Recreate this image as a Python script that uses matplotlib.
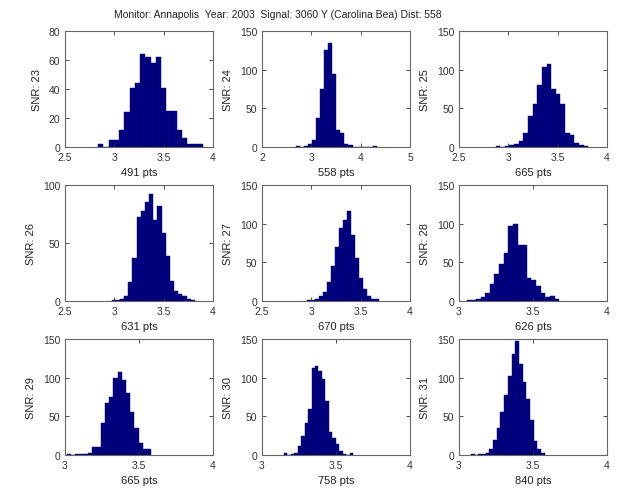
import numpy as np
import matplotlib
matplotlib.use("Agg")
import matplotlib.pyplot as plt

plt.rcParams['font.family'] = ['Liberation Sans', 'DejaVu Sans']

title = "Monitor: Annapolis  Year: 2003  Signal: 3060 Y (Carolina Bea) Dist: 558"

snr = [23, 24, 25, 26, 27, 28, 29, 30, 31]
npts = [491, 558, 665, 631, 670, 626, 665, 758, 840]

# data range (first bin left edge, last bin right edge) for each panel
bin_lo = [2.837, 2.68, 2.87, 2.973, 2.953, 3.052, 3.011, 3.147, 3.08]
bin_hi = [3.897, 4.33, 3.81, 3.817, 3.69, 3.677, 3.584, 3.616, 3.58]

counts_23 = [2, 0, 5, 5, 12, 24, 41, 44, 64, 62, 58, 62, 41, 25, 25, 12, 6, 2, 2, 2]
counts_24 = [1, 0, 1, 4, 9, 37, 75, 125, 135, 94, 22, 18, 4, 2, 0, 0, 0, 0, 0, 1]
counts_25 = [1, 0, 1, 2, 4, 8, 18, 40, 55, 80, 104, 107, 75, 68, 55, 18, 15, 5, 2, 1]
counts_26 = [1, 1, 2, 4, 16, 37, 72, 78, 85, 92, 70, 82, 59, 39, 17, 9, 6, 4, 2, 1]
counts_27 = [1, 1, 2, 6, 12, 25, 45, 70, 95, 105, 116, 85, 55, 30, 15, 6, 2, 2]
counts_28 = [1, 1, 2, 5, 10, 22, 35, 48, 62, 97, 100, 72, 72, 30, 27, 20, 10, 5, 7, 2]
counts_29 = [1, 0, 1, 1, 1, 2, 10, 10, 42, 67, 75, 100, 107, 97, 80, 55, 35, 15, 8, 8]
counts_30 = [3, 0, 1, 3, 12, 25, 42, 60, 112, 115, 108, 98, 70, 30, 22, 14, 5, 1, 0, 3]
counts_31 = [1, 0, 1, 1, 3, 8, 20, 35, 55, 78, 102, 130, 147, 118, 95, 72, 45, 18, 8, 3]
all_counts = [counts_23, counts_24, counts_25, counts_26, counts_27,
              counts_28, counts_29, counts_30, counts_31]

xlims = [(2.5, 4), (2, 5), (2.5, 4), (2.5, 4), (2.5, 4), (3, 4), (3, 4), (3, 4), (3, 4)]
xticks = [[2.5, 3, 3.5, 4], [2, 3, 4, 5], [2.5, 3, 3.5, 4], [2.5, 3, 3.5, 4],
          [2.5, 3, 3.5, 4], [3, 3.5, 4], [3, 3.5, 4], [3, 3.5, 4], [3, 3.5, 4]]
ymax = [80, 150, 150, 100, 150, 150, 150, 150, 150]
yticks = [[0, 20, 40, 60, 80], [0, 50, 100, 150], [0, 50, 100, 150], [0, 50, 100],
          [0, 50, 100, 150], [0, 50, 100, 150], [0, 50, 100, 150], [0, 50, 100, 150],
          [0, 50, 100, 150]]

W, H = 631, 489
fig = plt.figure(figsize=(W / 100, H / 100), dpi=100)

col_left = [65, 262, 459]
row_top = [32, 186, 340]
ax_w, ax_h = 148, 116

face = '#000080'
for i in range(9):
    r, c = divmod(i, 3)
    left = col_left[c] / W
    bottom = 1 - (row_top[r] + ax_h) / H
    ax = fig.add_axes([left, bottom, ax_w / W, ax_h / H])
    cnt = np.array(all_counts[i], dtype=float)
    edges = np.linspace(bin_lo[i], bin_hi[i], len(cnt) + 1)
    ax.bar(edges[:-1], cnt, width=np.diff(edges), align='edge',
           color=face, edgecolor='#000066', linewidth=0.3)
    ax.set_xlim(*xlims[i])
    ax.set_ylim(0, ymax[i])
    ax.set_xticks(xticks[i])
    ax.set_xticklabels([f"{t:g}" for t in xticks[i]])
    ax.set_yticks(yticks[i])
    ax.tick_params(direction='in', length=3, width=0.6, labelsize=7.5,
                   colors='#333333', top=True, right=True)
    ax.tick_params(axis='x', pad=3.5)
    ax.tick_params(axis='y', pad=3.5)
    ax.tick_params(labeltop=False, labelright=False)
    for s in ax.spines.values():
        s.set_color('#666666')
        s.set_linewidth(0.8)
    ax.set_xlabel(f"{npts[i]} pts", fontsize=8, color='#222222', labelpad=4)
    ax.set_ylabel(f"SNR: {snr[i]}", fontsize=8, color='#222222', labelpad=5)

fig.text(278 / W, 1 - 15 / H, title, ha='center', va='center', fontsize=7.5,
         color='#222222')

fig.savefig("out.png", dpi=100)
